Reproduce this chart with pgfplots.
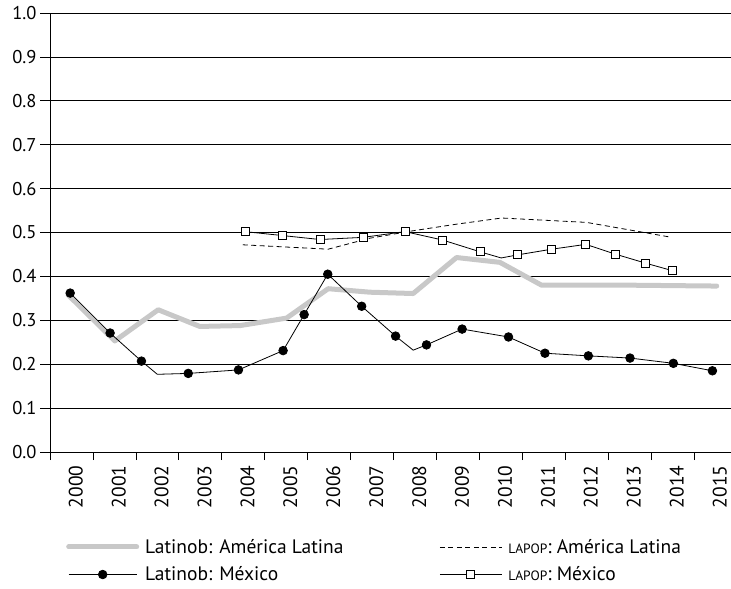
\documentclass[border=0pt]{standalone}
\usepackage{fontspec}
\setmainfont{PT Sans}
\usepackage{pgfplots}
\pgfplotsset{compat=1.18}
\definecolor{lgray}{RGB}{200,200,200}
\newcommand{\lapop}{{\fontsize{13.5}{15}\selectfont LAPOP}}
\pgfplotsset{
  shortimg/.style={legend image code/.code={\draw[##1, mark indices={2}] plot coordinates {(0pt,0pt) (31pt,0pt) (62pt,0pt)};}},
}
\begin{document}
\begin{tikzpicture}
\begin{axis}[
  name=ax,
  scale only axis,
  width=681pt, height=439pt,
  xmin=2000, xmax=2015.863,
  ymin=0, ymax=1,
  axis x line*=bottom, axis y line*=left,
  axis line style={black, line width=0.7pt},
  ytick={0,0.1,0.2,0.3,0.4,0.5,0.6,0.7,0.8,0.9,1.0},
  ymajorgrids,
  major grid style={black, line width=0.6pt},
  tick align=outside,
  major tick length=10pt,
  minor tick length=8pt,
  tick style={black, line width=0.6pt},
  xtick={2000.6,2001.6,2002.6,2003.6,2004.6,2005.6,2006.6,2007.6,2008.6,2009.6,2010.6,2011.6,2012.6,2013.6,2014.6,2015.6},
  xticklabels={2000,2001,2002,2003,2004,2005,2006,2007,2008,2009,2010,2011,2012,2013,2014,2015},
  minor xtick={2000,2001,2002,2003,2004,2005,2006,2007,2008,2009,2010,2011,2012,2013,2014,2015},
  major x tick style={draw=none},
  xticklabel style={rotate=90, anchor=east, inner ysep=1pt, font=\fontsize{19.5}{22}\selectfont},
  yticklabel style={font=\fontsize{18.5}{21}\selectfont, /pgf/number format/.cd, fixed, fixed zerofill, precision=1},
  /pgf/number format/assume math mode=true,
  legend columns=2,
  legend cell align=left,
  legend style={draw=none, fill=none, at={(0,0)}, anchor=north west,
    xshift=16pt, yshift=-85pt, inner sep=0pt, row sep=8pt,
    font=\fontsize{19.5}{22}\selectfont,
    /tikz/every odd column/.append style={column sep=4pt},
    /tikz/every even column/.append style={column sep=94pt}},
  legend image code/.code={\draw[#1, mark indices={2}] plot coordinates {(0pt,0pt) (34pt,0pt) (68pt,0pt)};},
]
% Latinobarometro: America Latina
\addplot[lgray, line width=5pt, line cap=round, line join=round] coordinates {
  (2000.42,0.358) (2001.51,0.253) (2002.52,0.324) (2003.49,0.286) (2004.43,0.288)
  (2005.51,0.305) (2006.48,0.372) (2007.45,0.364) (2008.46,0.361) (2009.47,0.443)
  (2010.48,0.432) (2011.45,0.380) (2012.50,0.380) (2013.50,0.380) (2014.50,0.379)
  (2015.53,0.378)
};
\addlegendentry{Latinob: América Latina}
% LAPOP: America Latina
\addplot[black, line width=0.8pt, dash pattern=on 5pt off 3.5pt, shortimg] coordinates {
  (2004.49,0.472) (2006.48,0.462) (2007.45,0.487) (2008.46,0.504) (2009.47,0.519)
  (2010.52,0.533) (2012.50,0.523) (2014.48,0.489)
};
\addlegendentry{\lapop: América Latina}
% Latinobarometro: Mexico
\addplot[black, line width=0.8pt, mark=*, mark size=4.3pt,
  mark indices={1,2,3,5,6,7,8,9,10,11,13,14,15,16,17,18,19,20}] coordinates {
  (2000.47,0.362) (2001.40,0.271) (2002.13,0.207) (2002.50,0.177) (2003.22,0.179)
  (2004.39,0.187) (2005.43,0.231) (2005.92,0.313) (2006.47,0.405) (2007.26,0.332)
  (2008.05,0.264) (2008.46,0.232) (2008.77,0.244) (2009.60,0.280) (2010.68,0.262)
  (2011.53,0.225) (2012.54,0.219) (2013.51,0.214) (2014.52,0.202) (2015.43,0.185)
};
\addlegendentry{Latinob: México}
% LAPOP: Mexico
\addplot[black, line width=0.8pt, mark=square*, mark size=4pt,
  mark options={fill=white, line width=0.8pt},
  mark indices={1,2,3,4,5,6,7,9,10,11,12,13,14}, shortimg] coordinates {
  (2004.54,0.502) (2005.42,0.493) (2006.29,0.484) (2007.30,0.489) (2008.27,0.502)
  (2009.14,0.483) (2010.02,0.456) (2010.51,0.442) (2010.89,0.449) (2011.69,0.462)
  (2012.48,0.473) (2013.16,0.451) (2013.88,0.430) (2014.50,0.413)
};
\addlegendentry{\lapop: México}
\end{axis}
\pgfresetboundingbox
\path[use as bounding box] ([xshift=-50pt,yshift=-137pt]ax.south west) rectangle ([yshift=13pt]ax.north east);
\end{tikzpicture}
\end{document}
